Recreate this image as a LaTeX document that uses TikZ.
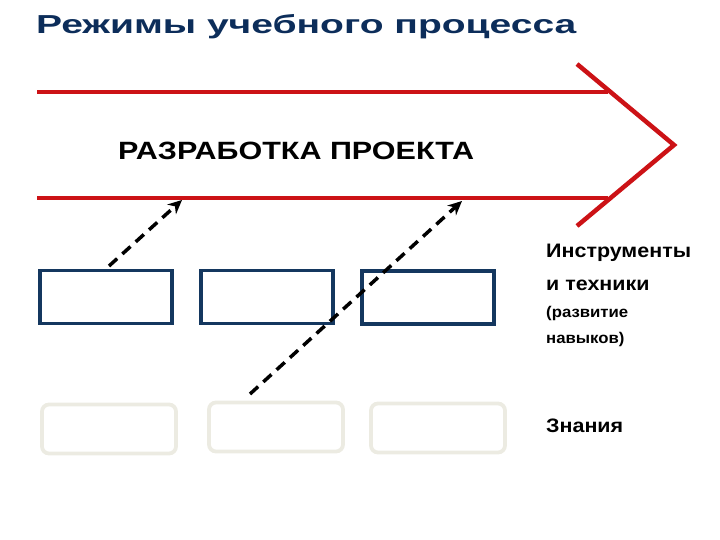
\documentclass[tikz,border=0pt]{standalone}
\usepackage{fontspec}
\setmainfont{Liberation Sans}
\usetikzlibrary{positioning,arrows.meta}

\definecolor{rojo}{RGB}{204,18,22}
\definecolor{azul}{RGB}{20,55,95}
\definecolor{titazul}{RGB}{12,45,90}
\definecolor{gris}{RGB}{236,235,226}

% ancho de texto (la diapositiva original esta estirada)
\newcommand{\ancho}[2]{\scalebox{#1}[1]{#2}}

\begin{document}
\begin{tikzpicture}[
    x=1pt, y=-1pt,
    titulo/.style={anchor=base west, inner sep=0pt, text=titazul, font=\fontsize{26}{26}\selectfont\bfseries},
    flecha/.style={rojo, line width=4.5pt},
    caja/.style={draw=azul, line width=3.2pt, minimum width=132pt, minimum height=53pt, inner sep=0pt},
    cajaclara/.style={draw=gris, line width=3.8pt, rounded corners=7pt, minimum width=134pt, minimum height=49pt, inner sep=0pt},
    etiqueta/.style={anchor=base west, inner sep=0pt, font=\fontsize{19.5}{19.5}\selectfont\bfseries},
    nota/.style={anchor=base west, inner sep=0pt, font=\fontsize{15.5}{15.5}\selectfont\bfseries},
    enlace/.style={-{Stealth[length=14pt, width=13pt]}, line width=3.5pt, dash pattern=on 11pt off 7pt}
]
\useasboundingbox (0,0) rectangle (720,540);

% --- Titulo ---
\node[titulo] (titulo) at (36,34) {\ancho{1.5}{Режимы учебного процесса}};

% --- Flecha del proyecto ---
\coordinate (sup-a) at (37,92);
\coordinate (sup-b) at (608,92);
\coordinate (inf-a) at (37,198);
\coordinate (inf-b) at (608,198);
\coordinate (pico-a) at (577,64);
\coordinate (pico) at (674,145);
\coordinate (pico-b) at (577,226);
\draw[flecha] (sup-a) -- (sup-b);
\draw[flecha] (inf-a) -- (inf-b);
\draw[flecha, line join=miter] (pico-a) -- (pico) -- (pico-b);
\node[anchor=base west, inner sep=0pt, font=\fontsize{25}{25}\selectfont\bfseries] (proyecto) at (118,160) {\ancho{1.22}{РАЗРАБОТКА ПРОЕКТА}};

% --- Instrumentos y tecnicas ---
\node[caja] (h1) at (106,297) {};
\node[caja] (h2) at (267,297) {};
\node[caja] (h3) at (428,297.5) {};

% --- Conocimientos ---
\node[cajaclara] (c1) at (109,429) {};
\node[cajaclara] (c2) at (276,427) {};
\node[cajaclara] (c3) at (438,428) {};

% --- Etiquetas a la derecha ---
\node[etiqueta] (instr) at (546,258) {\ancho{1.1}{Инструменты}};
\node[etiqueta] (tecn) at (546,290) {\ancho{1.1}{и техники}};
\node[nota] (desa) at (546,317) {\ancho{1.08}{(развитие}};
\node[nota] (habi) at (546,343) {\ancho{1.08}{навыков)}};
\node[etiqueta] (conoc) at (546,432) {\ancho{1.1}{Знания}};

% --- Enlaces hacia el proyecto ---
\coordinate (e1) at (109,266);
\coordinate (f1) at (182,200);
\coordinate (e2) at (250,394);
\coordinate (f2) at (462,201);
\draw[enlace] (e1) -- (f1);
\draw[enlace] (e2) -- (f2);

\end{tikzpicture}
\end{document}
